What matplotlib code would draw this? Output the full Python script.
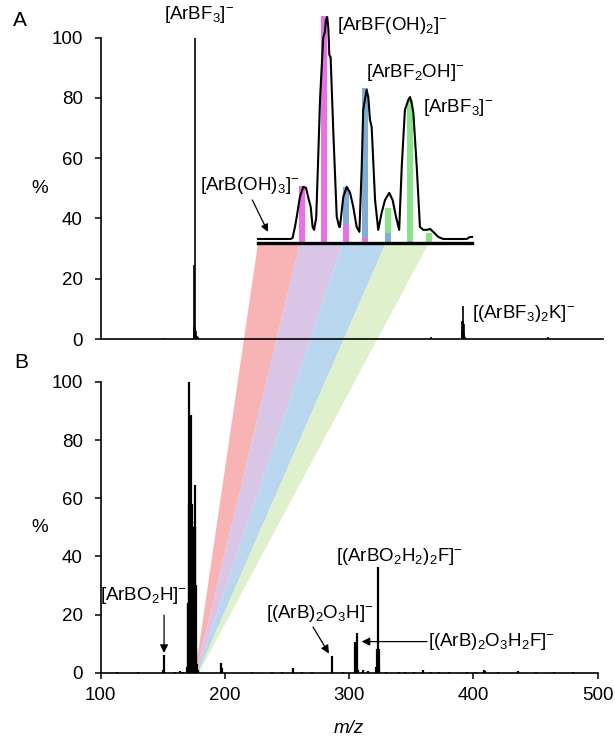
import matplotlib
matplotlib.use("Agg")
import matplotlib.pyplot as plt
from matplotlib.patches import Polygon

plt.rcParams['font.family'] = ['Liberation Sans', 'DejaVu Sans']
plt.rcParams['mathtext.fontset'] = 'custom'
plt.rcParams['mathtext.rm'] = 'Liberation Sans'
plt.rcParams['mathtext.it'] = 'Liberation Sans:italic'
plt.rcParams['mathtext.default'] = 'regular'

# ---------------- data ----------------
# Panel A stick spectrum (m/z, relative intensity %)
a_mz = [151.0, 174.8, 175.1, 175.4, 175.9, 176.3, 176.8, 177.5, 178.5,
        365.6, 390.6, 391.0, 391.3, 391.7, 392.1, 392.6, 393.2, 459.7]
a_int = [0.4, 3.5, 24.5, 4.0, 100.0, 3.8, 2.5, 1.0, 0.6,
         0.5, 3.0, 6.0, 11.0, 6.0, 5.0, 2.0, 0.8, 0.5]

# Panel B stick spectrum
b_mz = [113, 130, 150.5, 151.0, 160, 164, 166,
        169.6, 170.0, 170.4, 170.8, 171.2, 171.6, 172.0, 172.4, 172.8, 173.2,
        173.6, 174.0, 174.4, 174.8, 175.2, 175.6, 176.0, 176.4, 176.8, 177.3, 178.0,
        197.0, 197.5, 222, 238, 246, 255.0, 262, 270, 286.0, 295,
        305.0, 305.4, 305.9, 306.4, 307.0, 311, 315,
        321.8, 322.4, 323.2, 323.7, 324.3,
        330, 340, 345, 352, 359, 366, 372, 380, 395, 402, 408.5, 409.5,
        420, 436, 450, 465, 480]
b_int = [0.4, 0.2, 1.0, 6.0, 0.4, 0.6, 0.3,
         2.0, 24.0, 24.0, 58.0, 100.0, 58.0, 60.0, 58.0, 88.6, 58.0,
         52.0, 50.0, 50.0, 50.0, 50.0, 64.6, 50.0, 30.0, 8.0, 3.0, 1.0,
         3.2, 1.5, 0.3, 0.3, 0.3, 1.5, 0.3, 0.3, 5.7, 0.3,
         10.5, 4.0, 13.5, 2.0, 1.0, 1.0, 0.5,
         2.0, 8.0, 36.5, 8.0, 2.0,
         0.4, 0.3, 0.4, 0.3, 0.8, 0.3, 0.3, 0.3, 0.3, 0.3, 0.9, 0.6,
         0.2, 0.6, 0.2, 0.2, 0.2]

# Inset: profile trace of the m/z ~170-178 region in A
ins_mz = [168.87, 170.40, 170.50, 170.62, 170.70, 170.85, 171.01, 171.14, 171.25,
          171.36, 171.45, 171.52, 171.62, 171.70, 171.80, 171.95, 172.03, 172.08,
          172.14, 172.19, 172.24, 172.30, 172.43, 172.59, 172.71, 172.74, 172.90,
          173.06, 173.22, 173.37, 173.53, 173.66, 173.77, 173.84, 173.92, 174.00,
          174.08, 174.16, 174.24, 174.40, 174.55, 174.71, 174.87, 175.07, 175.23,
          175.39, 175.54, 175.66, 175.81, 175.97, 176.05, 176.13, 176.21, 176.37,
          176.52, 176.68, 176.84, 177.00, 177.15, 177.39, 177.62, 178.73, 178.88,
          178.98]
ins_int = [0.4, 0.4, 0.8, 6.0, 10.3, 19.3, 23.8, 23.3, 18.8,
           14.8, 5.8, 4.5, 10.0, 32.7, 62.8, 90.6, 93.3, 98.7,
           100.0, 95.5, 83.0, 82.0, 48.0, 10.3, 5.8, 5.8, 19.3,
           23.8, 21.1, 14.8, 5.8, 3.6, 32.7, 58.3, 62.8, 67.3,
           64.1, 53.8, 50.7, 17.9, 4.5, 12.1, 17.9, 21.1, 17.9,
           10.3, 4.5, 32.7, 58.3, 62.8, 64.1, 61.4, 57.0, 32.7,
           5.8, 4.5, 4.5, 4.9, 3.6, 1.3, 0.4, 0.4, 1.3,
           1.3]

# Inset: theoretical isotope pattern bars (stacked heights)
bar_mz = [170.97, 171.97, 173.03, 173.93, 175.00, 176.03, 176.97]
bar_mag = [24.0, 100.5, 6.7, 1.0, 0.0, 0.0, 0.0]      # [ArBF(OH)2]-
bar_blue = [0.0, 0.0, 17.2, 67.0, 4.5, 1.0, 0.0]      # [ArBF2OH]-
bar_green = [0.0, 0.0, 0.0, 0.0, 15.7, 64.0, 4.5]     # [ArBF3]-

# Fans linking the inset to panel B (m/z edges)
fan_top = [168.87, 170.85, 172.88, 174.91, 176.94]
fan_bottom = [176.0, 176.8, 177.6, 178.4, 179.2]
fan_colors = ['#f8b4b4', '#d9c5e6', '#b8d6ee', '#dff0cc']

x_ticks_b = [100, 200, 300, 400, 500]
y_ticks = [0, 20, 40, 60, 80, 100]

# ---------------- figure ----------------
W, H = 615, 738
fig = plt.figure(figsize=(W / 100, H / 100), dpi=100)

axA = fig.add_axes([100.7 / W, 1 - 339 / H, (603 - 100.7) / W, (339 - 37.5) / H])
axB = fig.add_axes([100.7 / W, 1 - 672.7 / H, (597.7 - 100.7) / W, (672.7 - 382) / H])
ins = fig.add_axes([258 / W, 1 - 243 / H, 214 / W, (243 - 14.8) / H])

FS_TICK = 13.5
FS_LAB = 13.5

for ax in (axA, axB):
    ax.set_facecolor('none')
    ax.spines['top'].set_visible(False)
    ax.spines['right'].set_visible(False)
    ax.spines['left'].set_linewidth(1.2)
    ax.spines['bottom'].set_linewidth(1.2)
    ax.set_ylim(0, 100)
    ax.set_yticks(y_ticks)
    ax.tick_params(axis='y', direction='out', length=4, width=1.1, pad=9,
                   labelsize=FS_TICK)
    ax.tick_params(axis='x', direction='out', length=4, width=1.1, pad=6,
                   labelsize=FS_TICK)

axA.set_xlim(100, 504.3)
axA.set_xticks([])
axB.set_xlim(100, 500)
axB.set_xticks(x_ticks_b)

axA.vlines(a_mz, 0, a_int, color='black', lw=1.2)
axB.vlines(b_mz, 0, b_int, color='black', lw=1.6)

# y labels
for ax in (axA, axB):
    ax.set_ylabel('%', rotation=0, fontsize=FS_LAB, va='center', ha='center')
    ax.yaxis.set_label_coords(-0.122, 0.5)
axB.set_xlabel('m/z', fontsize=FS_LAB, style='italic', labelpad=12)

fig.text(20 / W, 1 - 21 / H, 'A', fontsize=15, ha='center', va='center')
fig.text(21 / W, 1 - 362 / H, 'B', fontsize=15, ha='center', va='center')

# Panel A labels
axA.text(179, 107.5, r'[ArBF$_3$]$^{-}$', ha='center', va='center',
         fontsize=FS_LAB, clip_on=False)
axA.text(398.8, 8.6, r'[(ArBF$_3$)$_2$K]$^{-}$', ha='left', va='center',
         fontsize=FS_LAB)

# Inset
ins.set_facecolor('none')
ins.set_xlim(168.87, 178.98)
ins.set_ylim(-1.4, 101)
ins.set_xticks([])
ins.set_yticks([])
for s in ('top', 'right', 'left'):
    ins.spines[s].set_visible(False)
ins.spines['bottom'].set_linewidth(2.4)
y0 = -1.4
bw = 0.28
ins.bar(bar_mz, [m - y0 if m > 0 else 0 for m in bar_mag], bottom=y0, width=bw,
        color='#ea70ea', linewidth=0)
b_bot = [y0 + (m - y0 if m > 0 else 0) for m in bar_mag]
ins.bar(bar_mz, [b if b > 0 else 0 for b in bar_blue], bottom=b_bot, width=bw,
        color='#7eaed6', linewidth=0)
g_bot = [bb + b for bb, b in zip(b_bot, bar_blue)]
ins.bar(bar_mz, [g - (gb - y0) if g > 0 and gb > y0 else g for g, gb in zip(bar_green, g_bot)],
        bottom=g_bot, width=bw, color='#86e686', linewidth=0)
ins.plot(ins_mz, ins_int, color='black', lw=1.5, clip_on=False)

ins.text(172.6, 96.4, r'[ArBF(OH)$_2$]$^{-}$', ha='left', va='center',
         fontsize=FS_LAB, clip_on=False)
ins.text(173.97, 75.3, r'[ArBF$_2$OH]$^{-}$', ha='left', va='center',
         fontsize=FS_LAB, clip_on=False)
ins.text(176.66, 59.2, r'[ArBF$_3$]$^{-}$', ha='left', va='center',
         fontsize=FS_LAB, clip_on=False)
ins.text(170.85, 24.5, r'[ArB(OH)$_3$]$^{-}$', ha='right', va='center',
         fontsize=FS_LAB, clip_on=False)
ins.annotate('', xy=(169.34, 3.6), xytext=(168.6, 17.9),
             arrowprops=dict(arrowstyle='-|>', color='black', lw=0.9,
                             mutation_scale=11, shrinkA=0, shrinkB=0),
             annotation_clip=False)

# Panel B labels and arrows
arrow_kw = dict(arrowstyle='-|>', color='black', lw=0.9, mutation_scale=12,
                shrinkA=0, shrinkB=0)
axB.text(169.5, 26.7, r'[ArBO$_2$H]$^{-}$', ha='right', va='center', fontsize=FS_LAB)
axB.annotate('', xy=(151, 6.8), xytext=(151, 19.8), arrowprops=arrow_kw)
axB.text(276.6, 20.5, r'[(ArB)$_2$O$_3$H]$^{-}$', ha='center', va='center', fontsize=FS_LAB)
axB.annotate('', xy=(283.7, 6.6), xytext=(270.9, 15.7), arrowprops=arrow_kw)
axB.text(363.5, 10.7, r'[(ArB)$_2$O$_3$H$_2$F]$^{-}$', ha='left', va='center', fontsize=FS_LAB)
axB.annotate('', xy=(310, 10.7), xytext=(362.6, 10.7), arrowprops=arrow_kw)
axB.text(340.2, 39.9, r'[(ArBO$_2$H$_2$)$_2$F]$^{-}$', ha='center', va='center', fontsize=FS_LAB)

# Fans
inv = fig.transFigure.inverted()
for i, col in enumerate(fan_colors):
    p1 = inv.transform(ins.transData.transform((fan_top[i], y0)))
    p2 = inv.transform(ins.transData.transform((fan_top[i + 1], y0)))
    p3 = inv.transform(axB.transData.transform((fan_bottom[i + 1], 0)))
    p4 = inv.transform(axB.transData.transform((fan_bottom[i], 0)))
    poly = Polygon([p1, p2, p3, p4], closed=True, transform=fig.transFigure,
                   facecolor=col, edgecolor='none', zorder=-1)
    fig.patches.append(poly)

fig.savefig('out.png', dpi=100)
